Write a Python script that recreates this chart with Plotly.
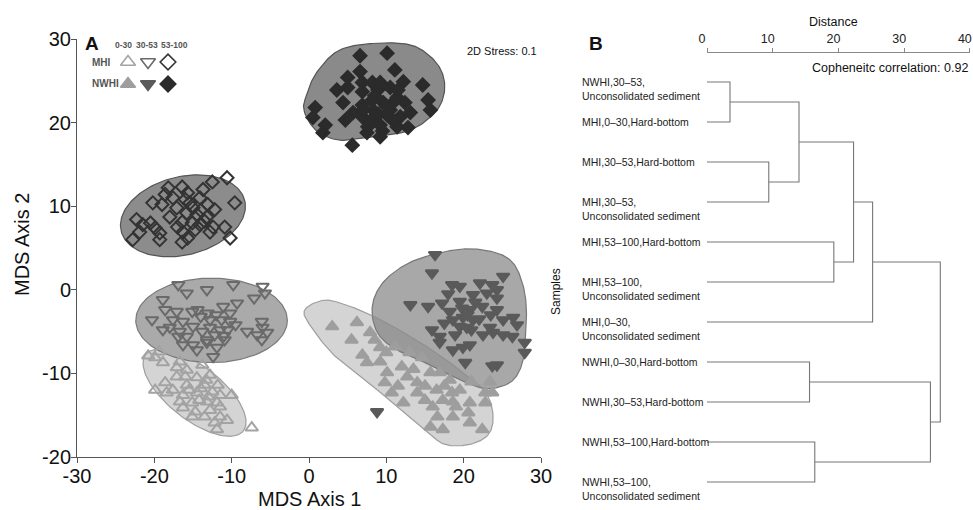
import numpy as np
import plotly.graph_objects as go

W, H = 973, 510

# ---------------- Panel A data (MDS coordinates) ----------------
mhi_0_30_x = [-20.8, -19.4, -19.9, -18.9, -17.1, -13.8, -17.1, -16.0, -14.5, -12.8, -18.6, -19.9, -17.6, -15.8,
              -13.5, -11.8, -18.4, -16.3, -14.5, -12.5, -11.5, -10.0, -16.7, -15.1, -13.2, -11.9, -16.3, -14.7,
              -12.8, -11.5, -15.1, -13.5, -11.5, -10.6, -12.2, -11.9, -7.4, -15.5, -14.0, -13.0, -14.2, -15.8,
              -16.7, -13.3]
mhi_0_30_y = [-7.9, -7.4, -8.1, -8.7, -9.3, -9.0, -10.4, -10.4, -10.5, -10.2, -11.1, -12.0, -12.0, -11.4,
              -11.4, -11.4, -12.3, -12.6, -12.3, -12.2, -12.6, -12.6, -13.4, -13.5, -13.4, -13.5, -14.1, -14.6,
              -14.4, -14.0, -15.2, -15.2, -15.2, -15.6, -15.9, -16.7, -16.5, -12.0, -11.8, -12.8, -13.2, -9.6,
              -8.6, -10.8]

mhi_30_53_x = [-16.9, -15.8, -13.2, -9.8, -6.0, -5.7, -7.1, -18.9, -9.3, -11.1, -18.6, -17.1, -15.1, -14.4,
               -13.1, -10.2, -20.3, -17.6, -16.3, -12.8, -11.3, -10.2, -18.9, -18.0, -16.7, -15.0, -12.8, -11.5,
               -10.5, -8.0, -6.1, -6.0, -6.7, -5.4, -16.9, -15.8, -13.2, -12.2, -10.9, -6.1, -16.3, -15.0,
               -13.2, -14.5, -11.9, -12.4, -14.0, -12.0, -11.0, -9.5, -13.8]
mhi_30_53_y = [0.6, -0.4, 0.0, 0.6, 0.4, -0.4, -1.0, -1.2, -1.6, -2.0, -2.4, -2.6, -2.6, -2.4,
               -2.8, -2.8, -3.6, -3.6, -3.8, -3.6, -3.6, -3.8, -4.8, -4.5, -5.0, -4.4, -4.5, -4.8,
               -4.8, -5.0, -3.8, -4.5, -5.4, -5.1, -5.6, -5.6, -6.0, -5.4, -6.0, -6.0, -6.6, -6.6,
               -6.3, -7.2, -6.9, -8.0, -3.2, -3.0, -5.5, -4.2, -5.0]

mhi_53_100_x = [-10.6, -12.5, -13.7, -16.4, -18.2, -18.6, -17.6, -15.7, -14.1, -20.2, -19.0, -17.1, -15.4,
                -13.1, -12.2, -9.6, -18.0, -15.8, -14.5, -13.2, -22.3, -21.5, -19.9, -16.4, -15.1, -14.1,
                -12.4, -10.9, -21.9, -19.3, -16.3, -14.7, -12.8, -22.8, -19.3, -16.4, -15.7, -10.2, -15.0,
                -14.0, -16.0, -13.5, -20.5, -17.0]
mhi_53_100_y = [13.4, 12.9, 12.0, 12.3, 12.2, 11.4, 11.0, 11.6, 11.0, 10.4, 10.2, 9.8, 10.4,
                10.2, 9.6, 10.4, 8.7, 9.2, 9.0, 8.7, 8.4, 7.8, 7.4, 8.1, 8.0, 7.8,
                7.5, 7.5, 6.9, 6.8, 6.9, 7.2, 6.9, 6.0, 6.0, 5.7, 6.2, 6.2, 9.8,
                9.5, 10.8, 8.2, 8.0, 7.5]

nwhi_0_30_x = [3.0, 6.2, 7.9, 6.9, 9.2, 7.5, 9.2, 11.1, 12.0, 14.6, 10.1, 9.8, 12.7, 14.0, 15.7, 16.9,
               18.2, 18.5, 10.7, 12.2, 14.0, 15.0, 16.0, 17.3, 18.6, 20.8, 22.8, 23.4, 23.7, 22.8, 20.6,
               16.6, 15.7, 17.3, 22.4, 20.8, 18.6, 8.5, 13.5, 15.0, 16.5, 19.5, 11.5, 17.5, 21.0, 10.0,
               5.5, 13.0, 19.0]
nwhi_0_30_y = [-4.4, -3.9, -5.1, -7.8, -6.9, -8.7, -8.6, -6.8, -9.2, -8.1, -9.9, -11.1, -10.4, -11.1, -9.9,
               -9.9, -10.8, -12.3, -12.3, -13.5, -12.3, -13.2, -14.0, -13.2, -13.4, -13.5, -12.3, -11.0,
               -12.3, -13.5, -14.7, -15.2, -16.4, -16.7, -16.7, -15.9, -15.2, -6.0, -9.5, -11.5, -12.0,
               -12.0, -11.5, -11.5, -11.0, -7.5, -6.0, -7.5, -14.0]

nwhi_30_53_x = [16.3, 15.9, 18.5, 19.5, 22.1, 23.7, 25.1, 24.3, 21.2, 23.0, 24.3, 19.5, 13.1, 15.4, 17.2,
                18.2, 19.8, 20.8, 22.4, 24.3, 18.6, 19.9, 21.2, 25.1, 26.4, 26.9, 19.5, 20.4, 23.4, 15.9,
                16.9, 18.9, 22.5, 23.8, 25.1, 26.3, 16.9, 18.6, 19.9, 20.8, 27.9, 27.9, 20.2, 23.7, 24.3,
                8.8, 21.5, 20.5, 22.0, 21.0, 18.0, 23.5, 17.5]
nwhi_30_53_y = [4.2, 2.0, 0.6, 0.4, 0.8, 0.6, 1.6, 0.0, -0.6, -0.4, -1.0, -1.4, -1.8, -2.0, -1.6,
                -2.6, -2.2, -2.4, -2.0, -2.4, -3.6, -3.3, -3.6, -3.6, -3.3, -4.2, -4.4, -4.5, -4.5, -4.8,
                -5.6, -5.4, -5.4, -5.1, -5.4, -5.6, -6.3, -7.2, -6.9, -6.6, -6.3, -7.5, -8.7, -9.1, -9.0,
                -14.6, -1.5, -3.0, -3.5, -4.8, -0.5, -3.0, -4.0]

nwhi_53_100_x = [6.6, 10.1, 6.6, 11.1, 5.0, 6.9, 8.2, 9.2, 12.2, 14.7, 3.6, 5.0, 6.9, 8.9, 10.5, 11.5,
                 4.4, 6.9, 8.2, 9.6, 11.4, 12.4, 15.4, 0.8, 5.7, 8.3, 10.5, 15.7, 0.5, 4.7, 6.9, 8.5,
                 10.1, 11.8, 13.1, 2.1, 7.6, 9.2, 11.4, 12.8, 1.8, 7.5, 9.2, 5.6, 9.0, 10.0, 8.0, 10.8,
                 9.5, 7.0, 11.0, 8.5]
nwhi_53_100_y = [28.0, 28.3, 26.1, 26.3, 25.4, 24.8, 24.8, 24.8, 24.9, 24.5, 23.9, 24.2, 23.7, 23.9, 24.2,
                 23.9, 22.4, 22.1, 22.7, 22.4, 23.0, 22.4, 22.7, 21.8, 21.2, 21.5, 21.5, 21.5, 20.6, 20.3,
                 20.7, 20.7, 20.9, 20.7, 21.2, 19.7, 19.5, 19.7, 19.5, 19.4, 18.8, 18.8, 18.3, 17.3, 21.0,
                 22.0, 20.0, 20.3, 19.0, 21.5, 22.5, 23.2]

# group ellipses: centre x, centre y, semi-axis a, semi-axis b, angle (deg)
ell_mhi_53_100 = [-16.3, 8.85, 8.2, 4.7, 12]
ell_mhi_30_53 = [-12.6, -3.65, 9.8, 5.05, 0]
ell_mhi_0_30 = [-14.8, -12.3, 7.8, 3.3, -35]

# free-hand group outlines (control points, data units)
blob_nwhi_53_100_x = [-0.6, -0.4, 1.0, 4.0, 8.8, 13.1, 15.7, 17.2, 17.5, 16.3, 13.1, 8.3, 4.0, 1.0]
blob_nwhi_53_100_y = [21.3, 23.1, 26.0, 28.7, 29.5, 29.3, 27.9, 26.0, 23.6, 21.2, 19.1, 18.3, 17.9, 19.0]
blob_nwhi_30_53_x = [8.2, 8.5, 10.1, 13.1, 17.3, 20.8, 24.3, 26.4, 27.6, 28.1, 28.0, 27.6, 26.4, 24.3,
                     22.1, 18.9, 15.7, 11.8, 9.2]
blob_nwhi_30_53_y = [-3.2, -0.8, 1.4, 3.3, 4.5, 4.9, 4.4, 3.2, 0.8, -2.0, -5.4, -8.7, -10.8, -11.7,
                     -11.7, -10.5, -9.0, -7.4, -5.6]
blob_nwhi_0_30_x = [-0.6, 1.2, 3.4, 8.2, 14.4, 19.5, 22.8, 23.8, 23.2, 20.8, 17.6, 15.3, 11.8, 7.5, 3.1, 0.1]
blob_nwhi_0_30_y = [-2.5, -1.4, -1.4, -3.1, -6.3, -9.6, -12.2, -15.0, -17.3, -18.5, -18.5, -17.0, -14.2,
                    -11.0, -7.7, -4.2]

depth_labels = ["0-30", "30-53", "53-100"]
region_labels = ["MHI", "NWHI"]
x_ticks = [-30, -20, -10, 0, 10, 20, 30]
y_ticks = [-20, -10, 0, 10, 20, 30]

# ---------------- Panel B data (dendrogram) ----------------
leaf_labels = [
    "NWHI,30\u201353,\nUnconsolidated sediment",
    "MHI,0\u201330,Hard-bottom",
    "MHI,30\u201353,Hard-bottom",
    "MHI,30\u201353,\nUnconsolidated sediment",
    "MHI,53\u2013100,Hard-bottom",
    "MHI,53\u2013100,\nUnconsolidated sediment",
    "MHI,0\u201330,\nUnconsolidated sediment",
    "NWHI,0\u201330,Hard-bottom",
    "NWHI,30\u201353,Hard-bottom",
    "NWHI,53\u2013100,Hard-bottom",
    "NWHI,53\u2013100,\nUnconsolidated sediment",
]
merge_left = [0, 2, 11, 4, 13, 15, 7, 9, 17, 16]
merge_right = [1, 3, 12, 5, 14, 6, 8, 10, 18, 19]
merge_height = [3.5, 9.4, 14.0, 19.3, 22.3, 25.2, 15.6, 16.4, 34.0, 35.5]
distance_ticks = [0, 10, 20, 30, 40]

FONT = "Arial, Liberation Sans, sans-serif"


def ellipse(p, n=160):
    cx, cy, a, b, ang = p
    t = np.linspace(0, 2 * np.pi, n)
    th = np.deg2rad(ang)
    x = cx + a * np.cos(t) * np.cos(th) - b * np.sin(t) * np.sin(th)
    y = cy + a * np.cos(t) * np.sin(th) + b * np.sin(t) * np.cos(th)
    return x, y


def smooth_closed(xs, ys, k=16):
    px = np.array(xs, float)
    py = np.array(ys, float)
    n = len(px)
    ox, oy = [], []
    for i in range(n):
        p0 = np.array([px[(i - 1) % n], py[(i - 1) % n]])
        p1 = np.array([px[i], py[i]])
        p2 = np.array([px[(i + 1) % n], py[(i + 1) % n]])
        p3 = np.array([px[(i + 2) % n], py[(i + 2) % n]])
        for t in np.linspace(0, 1, k, endpoint=False):
            t2, t3 = t * t, t * t * t
            pt = 0.5 * ((2 * p1) + (-p0 + p2) * t + (2 * p0 - 5 * p1 + 4 * p2 - p3) * t2 +
                        (-p0 + 3 * p1 - 3 * p2 + p3) * t3)
            ox.append(pt[0])
            oy.append(pt[1])
    ox.append(ox[0])
    oy.append(oy[0])
    return ox, oy


fig = go.Figure()


def add_region(x, y, fill, edge):
    fig.add_trace(go.Scatter(x=x, y=y, mode="lines", fill="toself", fillcolor=fill,
                             line=dict(color=edge, width=1.2), hoverinfo="skip", showlegend=False,
                             xaxis="x", yaxis="y"))


# regions
ex, ey = ellipse(ell_mhi_0_30)
add_region(ex, ey, "rgba(124,124,124,0.33)", "rgba(140,140,140,0.8)")
ex, ey = ellipse(ell_mhi_30_53)
add_region(ex, ey, "#aaaaaa", "#7a7a7a")
ex, ey = ellipse(ell_mhi_53_100)
add_region(ex, ey, "#8c8c8c", "#555555")
bx, by = smooth_closed(blob_nwhi_53_100_x, blob_nwhi_53_100_y)
add_region(bx, by, "#8a8a8a", "#555555")
bx, by = smooth_closed(blob_nwhi_30_53_x, blob_nwhi_30_53_y)
add_region(bx, by, "#a8a8a8", "#777777")
bx, by = smooth_closed(blob_nwhi_0_30_x, blob_nwhi_0_30_y)
add_region(bx, by, "rgba(124,124,124,0.33)", "rgba(140,140,140,0.8)")

styles = [
    ("MHI", "0-30", mhi_0_30_x, mhi_0_30_y, "triangle-up-open", "#a3a3a3", 11),
    ("MHI", "30-53", mhi_30_53_x, mhi_30_53_y, "triangle-down-open", "#6a6a6a", 11),
    ("MHI", "53-100", mhi_53_100_x, mhi_53_100_y, "diamond-open", "#333333", 10),
    ("NWHI", "0-30", nwhi_0_30_x, nwhi_0_30_y, "triangle-up", "#9e9e9e", 11),
    ("NWHI", "30-53", nwhi_30_53_x, nwhi_30_53_y, "triangle-down", "#5a5a5a", 11),
    ("NWHI", "53-100", nwhi_53_100_x, nwhi_53_100_y, "diamond", "#2b2b2b", 10),
]
for reg, dep, xs, ys, sym, col, sz in styles:
    fig.add_trace(go.Scatter(x=xs, y=ys, mode="markers", hoverinfo="skip", showlegend=False,
                             marker=dict(symbol=sym, size=sz, color=col, line=dict(color=col, width=2)),
                             xaxis="x", yaxis="y"))
    # legend glyph on the small legend grid
    fig.add_trace(go.Scatter(x=[dep], y=[reg], mode="markers", hoverinfo="skip", showlegend=False,
                             marker=dict(symbol=sym, size=sz + 2, color=col, line=dict(color=col, width=1.6)),
                             xaxis="x3", yaxis="y3"))

# dendrogram
n_leaf = len(leaf_labels)
node_x = [0.0] * n_leaf
node_y = list(range(n_leaf))
lx, ly = [], []
for a, b, h in zip(merge_left, merge_right, merge_height):
    lx += [node_x[a], h, h, node_x[b], None]
    ly += [node_y[a], node_y[a], node_y[b], node_y[b], None]
    node_x.append(h)
    node_y.append((node_y[a] + node_y[b]) / 2)
fig.add_trace(go.Scatter(x=lx, y=ly, mode="lines", line=dict(color="#777777", width=1.1),
                         hoverinfo="skip", showlegend=False, xaxis="x2", yaxis="y2"))

ann = []
for i, lab in enumerate(leaf_labels):
    for j, part in enumerate(lab.split("\n")):
        ann.append(dict(x=580 / W, xref="paper", xanchor="left", y=i, yref="y2", yanchor="middle",
                        yshift=-14 * j, text=part, showarrow=False,
                        font=dict(family=FONT, size=10.5, color="#222222")))

def pa(text, x, y, size, bold=False, color="#111111", xanchor="center", angle=0):
    t = f"<b>{text}</b>" if bold else text
    ann.append(dict(x=x / W, y=1 - y / H, xref="paper", yref="paper", text=t, showarrow=False,
                    xanchor=xanchor, yanchor="middle", textangle=angle,
                    font=dict(family=FONT, size=size, color=color)))

pa("A", 92, 43, 19, bold=True)
pa("B", 596, 43, 19, bold=True)
pa("MDS Axis 1", 309, 499, 20)
pa("MDS Axis 2", 22, 245, 20, angle=-90)
pa("2D Stress: 0.1", 502, 51, 11)
pa("Distance", 833, 22, 12.5)
pa("Copheneitc correlation: 0.92", 970, 68, 12.5, xanchor="right")
pa("Samples", 556, 292, 12, angle=-90)
for lab, xp in zip(depth_labels, [123, 147, 174]):
    pa(lab, xp, 45, 8.5, bold=True, color="#555555")
for lab, yp in zip(region_labels, [62, 84]):
    pa(lab, 90, yp, 10, bold=True, color="#555555", xanchor="left")

ax_common = dict(showgrid=False, zeroline=False, showline=True, linecolor="#555555", linewidth=1,
                 ticks="outside", ticklen=5, tickcolor="#555555", tickwidth=1, ticklabelstandoff=-4,
                 tickfont=dict(family=FONT, size=20, color="#111111"))

fig.update_layout(
    width=W, height=H, autosize=False, margin=dict(l=0, r=0, t=0, b=0),
    paper_bgcolor="white", plot_bgcolor="rgba(0,0,0,0)", showlegend=False,
    xaxis=dict(domain=[77 / W, 541 / W], range=[-30, 30], tickvals=x_ticks,
               ticktext=[str(v) for v in x_ticks], anchor="y", automargin=False, **ax_common),
    yaxis=dict(domain=[1 - 457 / H, 1 - 39 / H], range=[-20, 30], tickvals=y_ticks,
               ticktext=[str(v) for v in y_ticks], anchor="x", automargin=False, **ax_common),
    xaxis2=dict(domain=[707 / W, 970 / W], range=[0, 40.02], tickvals=distance_ticks, side="top",
                anchor="y2", showgrid=False, zeroline=False, showline=True, linecolor="#888888",
                ticks="outside", ticklen=4, tickcolor="#888888", automargin=False,
                ticklabeloverflow="allow", ticklabelshift=-5,
                tickfont=dict(family=FONT, size=12.5, color="#222222")),
    yaxis2=dict(domain=[1 - 500 / H, 1 - 53 / H], range=[10.45, -0.725], visible=False, anchor="x2"),
    xaxis3=dict(domain=[118 / W, 178 / W], type="category", categoryorder="array",
                categoryarray=depth_labels, range=[-0.5, 2.5], visible=False, anchor="y3"),
    yaxis3=dict(domain=[1 - 95 / H, 1 - 51 / H], type="category", categoryorder="array",
                categoryarray=region_labels, range=[1.5, -0.5], visible=False, anchor="x3"),
    annotations=ann,
)

fig.write_html("out.html", config={"displayModeBar": False},
               post_script="document.body.style.margin='0';document.body.style.overflow='hidden';")
